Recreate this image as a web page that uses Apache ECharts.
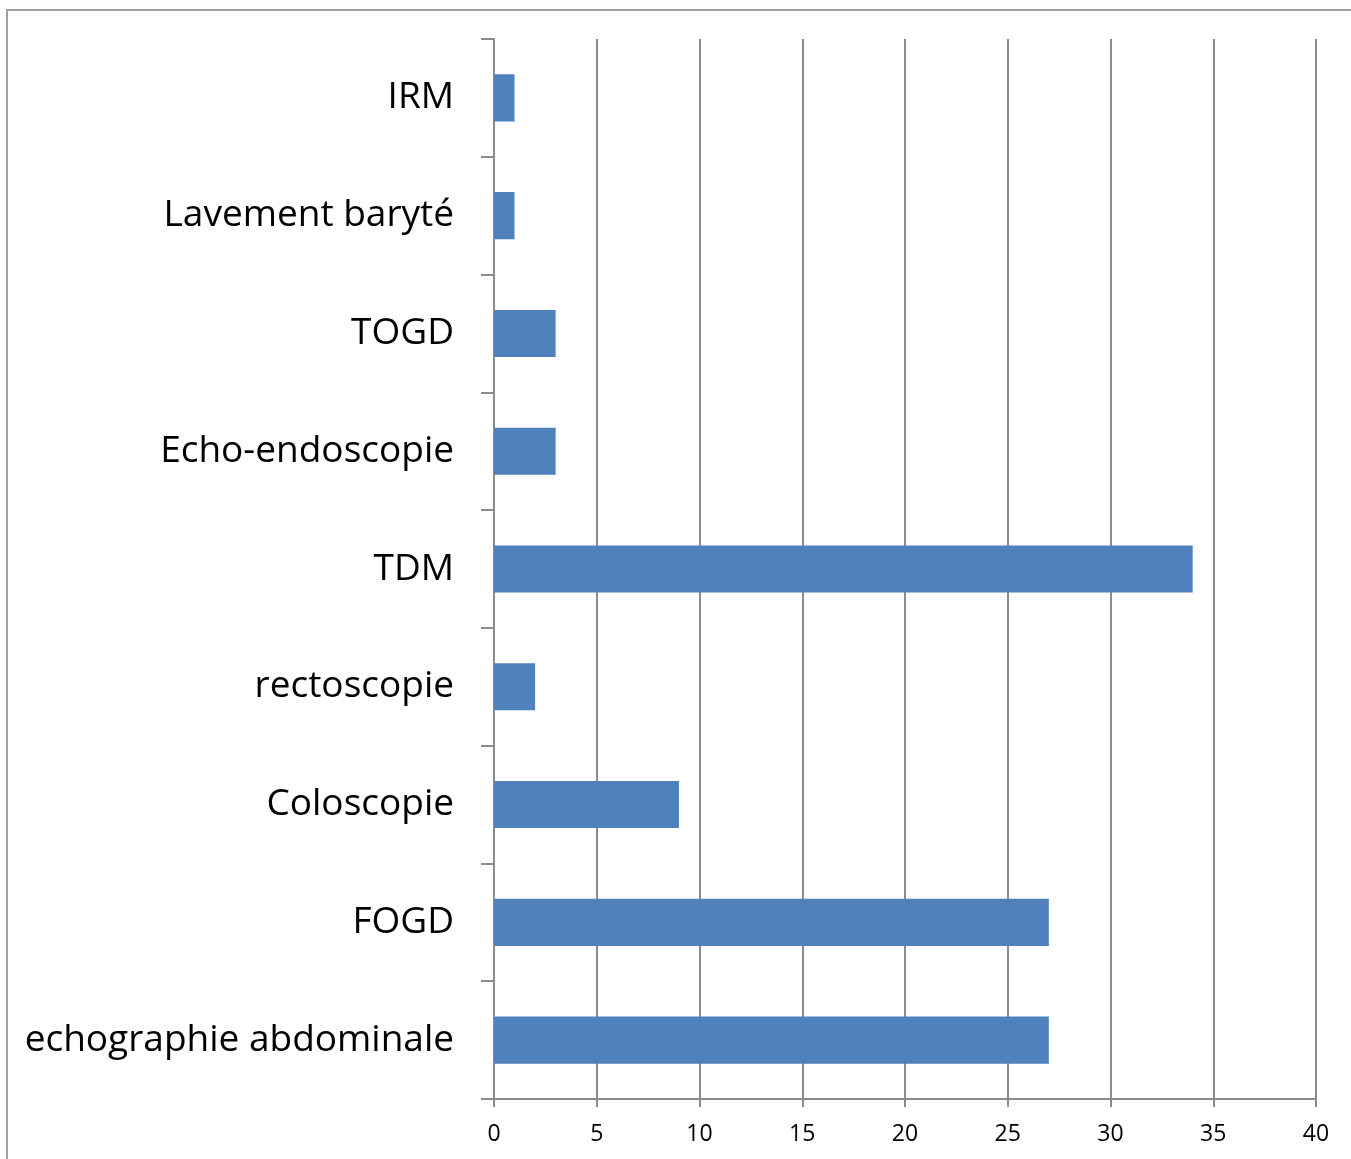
<!DOCTYPE html>
<html><head><meta charset="utf-8">
<style>html,body{margin:0;padding:0;background:#fff;}#c{width:1351px;height:1159px;}</style>
<script src="https://cdn.jsdelivr.net/npm/echarts@6/dist/echarts.min.js"></script>
</head><body><div id="c"></div>
<script>
const categories = ['echographie abdominale','FOGD','Coloscopie','rectoscopie','TDM','Echo-endoscopie','TOGD','Lavement baryté','IRM'];
const values = [27,27,9,2,34,3,3,1,1];
const xTicks = [0,5,10,15,20,25,30,35,40];

const chart = echarts.init(document.getElementById('c'), null, {renderer:'canvas'});
const gridColor = '#8c8c8c';
chart.setOption({
  animation:false,
  graphic:[{type:'rect', shape:{x:7,y:10,width:1400,height:1200}, style:{fill:'none', stroke:'#a0a0a0', lineWidth:2}}],
  grid:{left:494,right:35,top:39,bottom:60,containLabel:false},
  xAxis:{type:'value',min:xTicks[0],max:xTicks[xTicks.length-1],interval:5,
    axisLine:{show:true,lineStyle:{color:gridColor,width:2}},
    axisTick:{show:true,length:8,lineStyle:{color:gridColor,width:2}},
    axisLabel:{color:'#000',fontFamily:'Open Sans',fontSize:23,margin:24},
    splitLine:{show:true,lineStyle:{color:gridColor,width:2}}},
  yAxis:{type:'category',data:categories,
    axisLine:{show:true,lineStyle:{color:gridColor,width:2}},
    axisTick:{show:true,length:13,lineStyle:{color:gridColor,width:2}},
    axisLabel:{color:'#000',fontFamily:'Open Sans',fontSize:37,margin:40,padding:[9,0,0,0]},
    splitLine:{show:false}},
  series:[{type:'bar',data:values,barWidth:'40%',itemStyle:{color:'#4F81BD'}}]
});
</script></body></html>
